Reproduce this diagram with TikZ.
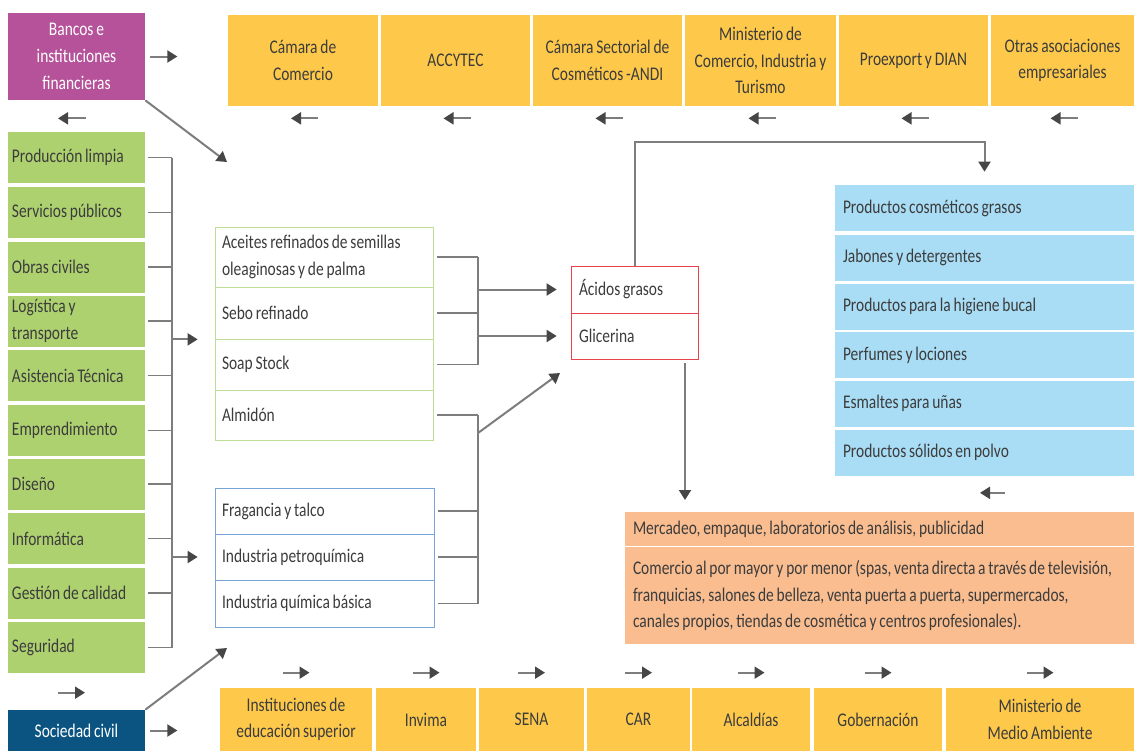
\documentclass[tikz,border=0pt]{standalone}
\usepackage{fontspec}
\setmainfont{Carlito}[FakeStretch=0.8, WordSpace=0.8]
\usepackage{xcolor}
\usepackage{tikz}
\usetikzlibrary{arrows.meta, positioning}
\definecolor{bancos}{RGB}{181,82,154}
\definecolor{ambar}{RGB}{254,201,75}
\definecolor{verde}{RGB}{174,209,112}
\definecolor{celeste}{RGB}{169,221,245}
\definecolor{salmon}{RGB}{249,189,144}
\definecolor{marino}{RGB}{11,84,130}
\definecolor{rojo}{RGB}{232,66,77}
\definecolor{verdeclaro}{RGB}{190,222,150}
\definecolor{azul}{RGB}{120,165,215}
\definecolor{texto}{RGB}{60,60,60}
\definecolor{linea}{RGB}{125,125,125}
\definecolor{punta}{RGB}{70,70,70}

\begin{document}
\begin{tikzpicture}[x=0.2mm, y=-0.2mm,
  caja/.style={inner ysep=0pt, inner xsep=0.8mm, text=texto,
               font=\fontsize{11}{15}\selectfont},
  entidad/.style={caja, fill=ambar, align=center, minimum height=18.2mm},
  entidadb/.style={caja, fill=ambar, align=center, minimum height=12.6mm},
  apoyo/.style={caja, fill=verde, minimum width=27.4mm, minimum height=10.2mm,
                text width=25.8mm, align=flush left},
  insumo/.style={caja, draw=verdeclaro, minimum width=43.6mm, inner xsep=1.4mm,
                 text width=40.8mm, align=flush left},
  quimico/.style={caja, draw=azul, minimum width=43.8mm, inner xsep=1.4mm,
                  text width=41mm, align=flush left},
  derivado/.style={caja, draw=rojo, minimum width=25.4mm, inner xsep=1.6mm,
                   text width=22.2mm, align=flush left},
  producto/.style={caja, fill=celeste, minimum width=59.8mm, minimum height=9.2mm,
                   inner xsep=1.6mm, text width=56.6mm, align=flush left},
  servicio/.style={caja, fill=salmon, minimum width=101.8mm, inner xsep=1.6mm,
                   text width=98.6mm, align=flush left},
  actor/.style={caja, text=white, minimum width=27.4mm, align=center},
  linea/.style={draw=linea, line width=0.3mm},
  flecha/.style={-{Triangle[length=2mm,width=2.4mm,color=punta]}, draw=linea,
                 line width=0.4mm}
]
\useasboundingbox (0,0) rectangle (1134,751);

% Actores
\node[actor, fill=bancos, minimum height=17.4mm,
      font=\fontsize{11}{15.5}\selectfont] (banca) at (76.5,56.5)
      {Bancos e\\instituciones\\financieras};
\node[actor, fill=marino, minimum height=8.2mm] (soc) at (76.5,730.5) {Sociedad civil};

% Entidades superiores
\node[entidad, minimum width=30mm] (cam) at (303,60.5) {Cámara de\\Comercio};
\node[entidad, minimum width=29.8mm] (accytec) at (455.5,60.5) {ACCYTEC};
\node[entidad, minimum width=29.8mm] (camsec) at (607.5,60.5) {Cámara Sectorial de\\Cosméticos -ANDI};
\node[entidad, minimum width=30.2mm] (mincit) at (760.5,60.5) {Ministerio de\\Comercio, Industria y\\Turismo};
\node[entidad, minimum width=29.8mm] (proexport) at (913.5,60.5) {Proexport y DIAN};
\node[entidad, minimum width=28.6mm] (otras) at (1062.5,60.5) {Otras asociaciones\\empresariales};

% Servicios de apoyo
\node[apoyo] (limpia) at (76.5,157.5) {Producción limpia};
\node[apoyo] (publicos) at (76.5,212.5) {Servicios públicos};
\node[apoyo] (obras) at (76.5,267) {Obras civiles};
\node[apoyo] (logistica) at (76.5,321) {Logística y\\transporte};
\node[apoyo] (asistencia) at (76.5,375.5) {Asistencia Técnica};
\node[apoyo] (emprende) at (76.5,430.5) {Emprendimiento};
\node[apoyo] (diseno) at (76.5,484) {Diseño};
\node[apoyo] (informatica) at (76.5,538.5) {Informática};
\node[apoyo] (calidad) at (76.5,593) {Gestión de calidad};
\node[apoyo] (seguridad) at (76.5,647.5) {Seguridad};

% Insumos
\node[insumo, minimum height=12mm] (aceites) at (324,257) {Aceites refinados de semillas\\oleaginosas y de palma};
\node[insumo, minimum height=10.4mm] (sebo) at (324,313) {Sebo refinado};
\node[insumo, minimum height=10.2mm] (soap) at (324,364.5) {Soap Stock};
\node[insumo, minimum height=10mm] (almidon) at (324,415) {Almidón};

\node[quimico, minimum height=9.2mm] (fragancia) at (324.5,511) {Fragancia y talco};
\node[quimico, minimum height=9.2mm] (petro) at (324.5,557) {Industria petroquímica};
\node[quimico, minimum height=9.4mm] (quimica) at (324.5,603.5) {Industria química básica};

% Derivados
\node[derivado, minimum height=9.4mm] (acidos) at (634.5,289.5) {Ácidos grasos};
\node[derivado, minimum height=9.2mm] (glicerina) at (634.5,336) {Glicerina};

% Productos finales
\node[producto] (grasos) at (984.5,208) {Productos cosméticos grasos};
\node[producto] (jabones) at (984.5,257.5) {Jabones y detergentes};
\node[producto] (bucal) at (984.5,306.5) {Productos para la higiene bucal};
\node[producto] (perfumes) at (984.5,355) {Perfumes y lociones};
\node[producto] (esmaltes) at (984.5,403.5) {Esmaltes para uñas};
\node[producto] (polvo) at (984.5,452.5) {Productos sólidos en polvo};

% Comercializacion
\node[servicio, minimum height=6.8mm] (merc) at (879.5,529) {Mercadeo, empaque, laboratorios de análisis, publicidad};
\node[servicio, minimum height=19.4mm] (comer) at (879.5,595.5)
  {\mbox{Comercio al por mayor y por menor (spas, venta directa a través de televisión,}\\
   franquicias, salones de belleza, venta puerta a puerta, supermercados,\\
   canales propios, tiendas de cosmética y centros profesionales).};

% Entidades inferiores
\node[entidadb, minimum width=30.4mm] (ies) at (296,719.5) {Instituciones de\\educación superior};
\node[entidadb, minimum width=20mm] (invima) at (426,719.5) {Invima};
\node[entidadb, minimum width=21mm] (sena) at (531.5,719.5) {SENA};
\node[entidadb, minimum width=20.6mm] (car) at (638.5,719.5) {CAR};
\node[entidadb, minimum width=23.6mm] (alcaldias) at (751,719.5) {Alcaldías};
\node[entidadb, minimum width=25.6mm] (gobernacion) at (878,719.5) {Gobernación};
\node[entidadb, minimum width=37.6mm] (minamb) at (1040,719.5) {Ministerio de\\Medio Ambiente};

% Puntos libres
\coordinate (brk) at (172,0);
\coordinate (brk2) at (478,0);
\coordinate (cima) at (0,142);
\coordinate (d1) at (227,162);
\coordinate (d2) at (227,648);
\coordinate (d3) at (478,433);
\coordinate (d4) at (560,373);
\coordinate (bajada) at (685,363);
\coordinate (bajadafin) at (685,500);

% Llave izquierda
\draw[linea] ([xshift=0.6mm]limpia.east) -- (limpia.east -| brk);
\draw[linea] ([xshift=0.6mm]publicos.east) -- (publicos.east -| brk);
\draw[linea] ([xshift=0.6mm]obras.east) -- (obras.east -| brk);
\draw[linea] ([xshift=0.6mm]logistica.east) -- (logistica.east -| brk);
\draw[linea] ([xshift=0.6mm]asistencia.east) -- (asistencia.east -| brk);
\draw[linea] ([xshift=0.6mm]emprende.east) -- (emprende.east -| brk);
\draw[linea] ([xshift=0.6mm]diseno.east) -- (diseno.east -| brk);
\draw[linea] ([xshift=0.6mm]informatica.east) -- (informatica.east -| brk);
\draw[linea] ([xshift=0.6mm]calidad.east) -- (calidad.east -| brk);
\draw[linea] ([xshift=0.6mm]seguridad.east) -- (seguridad.east -| brk);
\draw[linea] (limpia.east -| brk) -- (seguridad.east -| brk);
\draw[flecha] (brk |- sebo.south) -- ([xshift=-3.4mm]sebo.south west);
\draw[flecha] (brk |- petro.west) -- ([xshift=-3.4mm]petro.west);

% Llaves centrales
\draw[linea] ([xshift=0.8mm]aceites.east) -- (aceites.east -| brk2);
\draw[linea] ([xshift=0.8mm]sebo.east) -- (sebo.east -| brk2);
\draw[linea] ([xshift=0.8mm]soap.east) -- (soap.east -| brk2);
\draw[linea] ([xshift=0.8mm]almidon.east) -- (almidon.east -| brk2);
\draw[linea] ([xshift=0.8mm]fragancia.east) -- (fragancia.east -| brk2);
\draw[linea] ([xshift=0.8mm]petro.east) -- (petro.east -| brk2);
\draw[linea] ([xshift=0.8mm]quimica.east) -- (quimica.east -| brk2);
\draw[linea] (aceites.east -| brk2) -- (soap.east -| brk2);
\draw[linea] (almidon.east -| brk2) -- (quimica.east -| brk2);
\draw[flecha] (brk2 |- acidos.west) -- ([xshift=-2.8mm]acidos.west);
\draw[flecha] (brk2 |- glicerina.west) -- ([xshift=-2.8mm]glicerina.west);
\draw[flecha] (d3) -- (d4);

% Salidas de los derivados
\draw[flecha] (acidos.north) -- (acidos.north |- cima) -| ([yshift=2.6mm]grasos.north);
\draw[flecha] (bajada) -- (bajadafin);

% Diagonales
\draw[flecha] (banca.south east) -- (d1);
\draw[flecha] (soc.north east) -- (d2);

% Flechas cortas
\draw[flecha] ([xshift=1mm]banca.east) -- ++(27,0);
\draw[flecha] ([shift={(1.9mm,-3.6mm)}]banca.south) -- ++(-28,0);
\draw[flecha] ([shift={(-3.7mm,3.4mm)}]soc.north) -- ++(27,0);
\draw[flecha] ([xshift=1mm]soc.east) -- ++(27,0);
\draw[flecha] ([shift={(3mm,-2.4mm)}]cam.south) -- ++(-27,0);
\draw[flecha] ([shift={(3mm,-2.4mm)}]accytec.south) -- ++(-27,0);
\draw[flecha] ([shift={(3mm,-2.4mm)}]camsec.south) -- ++(-27,0);
\draw[flecha] ([shift={(3mm,-2.4mm)}]mincit.south) -- ++(-27,0);
\draw[flecha] ([shift={(3mm,-2.4mm)}]proexport.south) -- ++(-27,0);
\draw[flecha] ([shift={(3mm,-2.4mm)}]otras.south) -- ++(-27,0);
\draw[flecha] ([shift={(4.1mm,-3.4mm)}]polvo.south) -- ++(-25,0);
\draw[flecha] ([shift={(-2.7mm,3mm)}]ies.north) -- ++(27,0);
\draw[flecha] ([shift={(-2.7mm,3mm)}]invima.north) -- ++(27,0);
\draw[flecha] ([shift={(-2.7mm,3mm)}]sena.north) -- ++(27,0);
\draw[flecha] ([shift={(-2.7mm,3mm)}]car.north) -- ++(27,0);
\draw[flecha] ([shift={(-2.7mm,3mm)}]alcaldias.north) -- ++(27,0);
\draw[flecha] ([shift={(-2.7mm,3mm)}]gobernacion.north) -- ++(27,0);
\draw[flecha] ([shift={(-2.7mm,3mm)}]minamb.north) -- ++(27,0);

\end{tikzpicture}
\end{document}
